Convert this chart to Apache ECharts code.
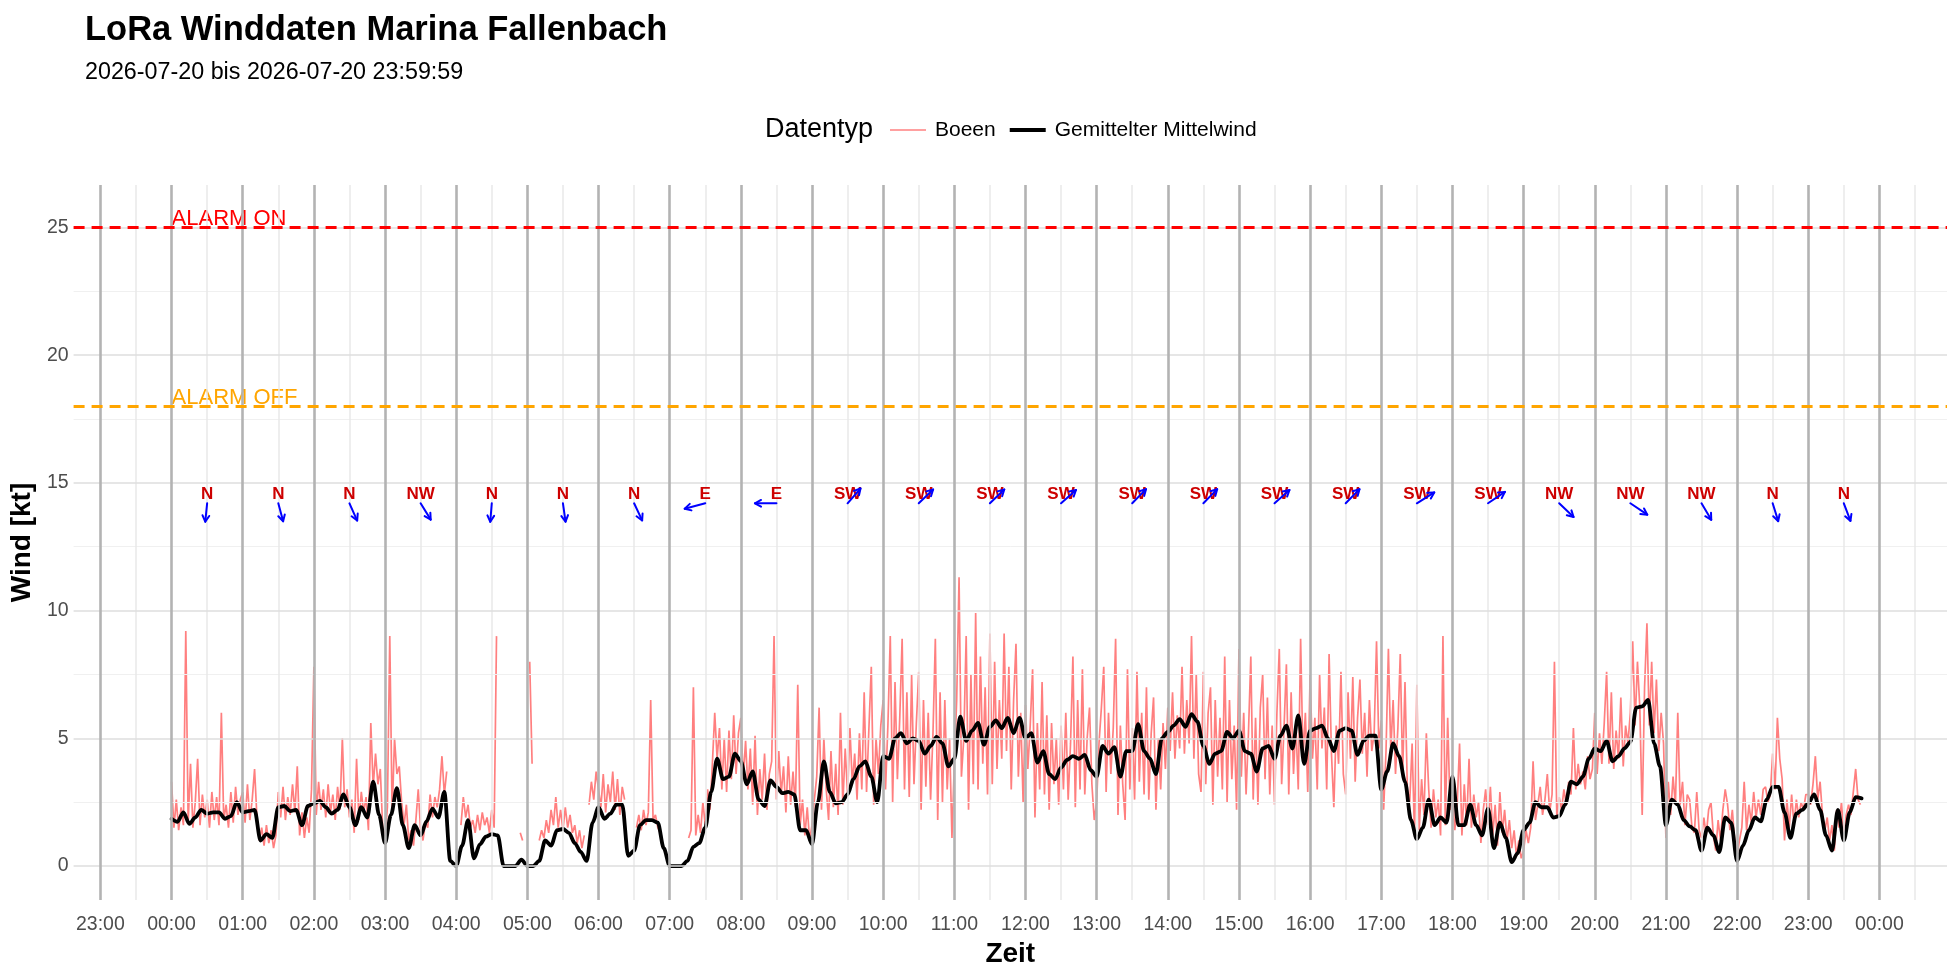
<!DOCTYPE html>
<html><head><meta charset="utf-8">
<script src="https://cdn.jsdelivr.net/npm/echarts@6/dist/echarts.min.js"></script>
<style>html,body{margin:0;padding:0;background:#fff}#c{width:1960px;height:980px}</style>
</head><body><div id="c"></div>
<script>
const FONT = '"Liberation Sans", Arial, Helvetica, sans-serif';

// ---- Gemittelter Mittelwind: 5-minute values, blocks of 4 hours starting 00:00 ----
const MEAN_STEP = 5;
const mean00_04 = [1.85,1.73,2.1,1.65,1.9,2.2,2.05,2.1,2.1,1.85,1.95,2.5,
  2.1,2.15,2.2,1.0,1.25,1.1,2.3,2.35,2.15,2.2,1.6,2.35,
  2.45,2.55,2.3,2.05,2.2,2.8,2.3,1.6,2.3,1.9,3.3,2.0,
  0.9,2.0,3.05,1.6,0.7,1.6,1.2,1.75,2.25,1.9,2.9,0.2];
const mean04_08 = [0,0.8,1.8,0.3,0.85,1.15,1.25,1.2,0,0,0,0.25,
  0,0,0.2,1.0,0.8,1.4,1.45,1.3,0.9,0.55,0.2,1.7,
  2.3,1.85,2.05,2.4,2.4,0.4,0.6,1.6,1.8,1.8,1.7,0.7,
  0,0,0,0.2,0.75,0.9,1.5,2.9,4.2,3.4,3.5,4.4];
const mean08_12 = [4.1,3.2,3.7,2.6,2.35,3.35,3.1,2.85,2.9,2.8,1.4,1.4,
  0.85,2.5,4.1,2.9,2.45,2.5,2.8,3.4,3.9,4.1,3.5,2.5,
  4.3,4.2,5.0,5.2,4.8,5.0,4.9,4.4,4.7,5.05,4.8,3.9,
  4.2,5.85,4.9,5.3,5.6,4.75,5.45,5.7,5.4,5.8,5.2,5.8];
const mean12_16 = [5.0,5.2,4.05,4.5,3.6,3.4,3.85,4.15,4.3,4.2,4.35,3.75,
  3.5,4.7,4.4,4.65,3.5,4.5,4.5,5.55,4.5,4.2,3.6,5.0,
  5.25,5.5,5.75,5.45,5.95,5.65,4.7,4.0,4.4,4.5,5.25,5.0,
  5.3,4.5,4.4,3.7,4.6,4.7,4.2,5.1,5.5,4.6,5.9,4.0];
const mean16_20 = [5.3,5.4,5.5,5.0,4.5,5.3,5.4,5.3,4.35,4.9,5.1,5.1,
  3.0,3.7,4.8,4.3,3.3,1.8,1.05,1.5,2.6,1.6,1.9,1.7,
  3.5,1.6,1.6,2.4,1.6,1.2,2.25,0.7,1.7,1.1,0.15,0.5,
  1.4,1.7,2.5,2.3,2.3,1.9,1.95,2.4,3.3,3.2,3.5,4.2];
const mean20_24 = [4.6,4.5,4.9,4.1,4.3,4.6,4.85,6.2,6.25,6.5,4.8,3.9,
  1.6,2.6,2.4,1.8,1.55,1.4,0.6,1.5,1.2,0.55,1.9,1.7,
  0.2,0.8,1.4,1.9,1.75,2.6,3.1,3.1,2.1,1.1,2.05,2.2,
  2.45,2.8,2.2,1.2,0.6,2.2,1.0,2.1,2.7,2.65];
const meanBlocks = [mean00_04, mean04_08, mean08_12, mean12_16, mean16_20, mean20_24];

// ---- Boeen: 2-minute values per hour (null = no data) ----
const GUST_STEP = 2;
const g00 = [3.3,1.5,2.6,1.4,2.3,1.6,9.2,1.7,4.0,1.5,2.5,4.2,1.6,2.8,1.9,2.6,1.5,2.9,1.8,2.7,1.6,6.0,1.8,2.4,1.5,2.9,1.7,3.1,2.0,2.6];
const g01 = [2.9,1.7,3.2,1.8,2.6,3.8,1.9,1.0,1.5,0.8,1.6,0.9,1.4,0.7,1.2,2.9,1.9,3.1,1.8,2.7,2.0,3.2,2.1,3.9,1.2,2.1,1.1,1.9,1.3,3.0];
const g02 = [7.8,2.0,3.3,2.2,3.0,1.9,3.2,2.1,2.8,1.8,3.1,2.2,5.0,2.3,3.0,1.9,2.6,1.3,4.2,1.8,2.9,2.1,2.7,1.4,5.6,3.1,4.4,3.2,3.8,1.5];
const g03 = [1.1,2.3,9.0,2.0,5.0,3.6,3.9,2.5,1.6,2.4,1.0,1.4,0.8,1.8,3.0,1.4,1.0,1.7,1.5,2.8,1.9,2.7,2.3,3.0,4.3,2.8,3.7,null,null,null];
const g04 = [null,null,1.6,2.7,1.9,2.4,1.5,1.8,1.3,2.0,1.4,2.1,1.6,1.9,1.3,2.2,1.5,9.0,null,null,null,null,null,null,null,null,null,1.3,1.0,null];
const g05 = [null,8.0,4.0,null,null,1.0,1.4,1.1,1.8,1.3,2.2,1.6,2.7,1.5,2.2,1.4,2.3,1.5,2.0,1.3,1.6,0.9,1.4,0.7,1.2,null,2.4,3.3,2.6,3.7];
const g06 = [3.0,2.3,3.6,2.1,3.2,2.5,3.7,2.2,3.4,2.0,3.1,2.6,null,null,null,null,1.5,2.0,1.4,2.2,1.6,2.1,6.5,1.8,2.0,1.5,1.3,null,null,null];
const g07 = [null,null,null,null,null,null,null,null,1.1,1.4,7.0,1.2,2.0,1.3,2.5,1.6,3.0,2.2,4.0,6.0,4.2,5.4,3.0,5.0,2.9,5.3,3.4,5.9,3.6,5.2];
const g08 = [5.8,3.4,4.9,3.0,4.6,2.4,5.1,2.0,3.8,2.6,4.4,2.2,3.6,4.1,9.0,2.6,4.5,2.8,3.9,2.1,4.3,2.4,3.7,2.3,7.1,1.6,2.6,1.2,2.3,1.0];
const g09 = [1.6,2.6,3.5,6.2,2.2,5.0,3.0,1.8,4.5,2.3,4.0,2.0,6.0,2.4,4.6,2.8,5.4,3.2,4.4,2.6,5.2,3.0,6.8,2.9,5.4,7.8,2.4,5.0,3.6,5.5];
const g10 = [6.5,3.0,5.5,9.0,2.5,7.2,3.4,5.8,8.9,3.0,6.8,2.7,7.5,3.2,5.6,7.6,2.2,6.5,3.1,6.0,2.6,5.2,8.9,1.8,6.8,2.5,6.5,3.0,5.0,1.1];
const g11 = [4.0,6.5,11.3,3.5,5.0,9.0,2.2,7.5,3.2,9.9,3.0,8.2,4.0,7.0,2.8,9.1,3.2,8.0,3.8,6.5,4.2,9.1,4.5,7.8,3.0,6.5,8.7,3.5,6.0,2.5];
const g12 = [6.3,3.8,5.5,7.7,1.9,5.6,3.0,7.2,2.8,5.9,2.2,5.6,3.2,5.0,2.4,5.5,3.0,6.0,2.6,4.8,8.2,2.3,6.5,3.0,7.7,2.8,5.0,6.2,3.2,1.8];
const g13 = [2.5,4.8,6.2,7.8,2.9,6.0,3.6,5.4,8.9,2.0,5.5,3.2,1.8,7.7,3.0,5.4,2.6,7.6,3.3,6.0,2.8,7.0,2.6,5.2,6.6,2.2,5.0,3.0,5.6,3.8];
const g14 = [6.2,4.5,6.8,4.2,5.9,4.6,7.8,4.4,6.5,4.8,9.0,4.2,7.5,3.6,2.9,7.6,3.2,6.0,7.0,2.4,6.5,3.5,5.8,3.0,8.2,2.5,6.5,3.4,5.5,2.2];
const g15 = [8.5,3.5,6.0,2.8,5.2,8.2,2.6,5.8,2.4,6.2,7.5,3.4,6.6,2.8,5.5,2.4,6.0,8.5,3.2,5.4,7.9,2.8,6.8,3.6,5.6,3.0,8.9,4.2,6.0,2.9];
const g16 = [7.5,4.2,5.8,3.0,7.5,4.6,6.2,3.0,8.3,4.4,2.3,5.5,4.0,7.6,3.6,2.8,6.8,4.2,7.4,3.3,5.8,7.3,4.4,6.0,3.5,6.5,4.5,5.2,8.8,4.6];
const g17 = [5.7,2.2,4.5,8.5,4.5,6.5,3.6,5.4,8.3,3.6,7.2,3.0,2.5,4.8,1.2,7.1,1.4,3.4,2.0,5.2,3.0,1.5,3.0,1.9,2.6,1.2,9.0,1.6,5.8,2.2];
const g18 = [2.8,1.4,2.4,4.8,1.2,3.2,1.6,4.2,1.5,2.8,1.9,2.5,0.9,2.2,3.0,1.6,3.1,1.2,2.4,0.8,2.9,1.3,2.2,1.0,1.8,0.7,1.4,0.4,1.0,0.3];
const g19 = [0.6,1.4,0.9,1.5,4.1,1.8,2.4,3.1,2.0,2.6,3.6,2.1,2.8,8.0,1.9,2.7,2.2,3.0,2.4,3.3,2.8,5.4,3.0,4.0,3.2,3.7,3.0,4.3,3.4,3.8];
const g20 = [6.0,3.6,5.2,4.0,5.6,7.6,4.0,6.8,3.8,5.3,4.2,6.6,3.9,5.5,4.8,6.0,8.8,5.5,8.0,6.2,2.0,7.0,9.5,5.5,8.0,5.2,7.3,4.5,6.0,4.8];
const g21 = [1.1,3.3,2.0,3.5,2.4,6.0,2.4,3.3,1.6,2.8,2.6,1.5,1.3,2.9,1.4,1.1,1.9,1.2,2.2,2.5,1.2,0.6,1.8,1.0,2.2,3.0,2.4,1.4,2.2,1.0];
const g22 = [0.4,1.0,1.5,3.3,1.4,2.4,1.7,2.9,1.9,2.6,2.0,3.0,3.1,2.5,2.8,4.4,3.0,5.8,4.2,3.4,1.0,2.6,1.5,2.8,1.6,2.6,1.9,2.5,2.2,2.8];
const g23 = [2.8,2.4,3.2,4.3,2.6,3.3,2.0,1.4,1.9,1.0,1.6,0.6,2.2,1.5,2.5,1.2,2.0,2.4,2.0,2.9,3.8,2.6,2.4,null,null,null,null,null,null,null];
const gustHours = [g00,g01,g02,g03,g04,g05,g06,g07,g08,g09,g10,g11,g12,g13,g14,g15,g16,g17,g18,g19,g20,g21,g22,g23];

// ---- Wind direction annotations (half hours) ----
const dirTimes = ['00:30','01:30','02:30','03:30','04:30','05:30','06:30','07:30','08:30','09:30','10:30','11:30',
  '12:30','13:30','14:30','15:30','16:30','17:30','18:30','19:30','20:30','21:30','22:30','23:30'];
const dirLabels = ['N','N','N','NW','N','N','N','E','E','SW','SW','SW','SW','SW','SW','SW','SW','SW','SW','NW','NW','NW','N','N'];
const dirDegrees = [5,347,339,332,4,353,338,73,90,217,222,222,224,220,220,224,220,234,232,318,308,333,345,342];
const DIR_LABEL_Y = 14.55;
const DIR_ARROW_Y = 14.2;

// ---- Alarm levels ----
const alarmNames = ['ALARM ON','ALARM OFF'];
const alarmLevels = [25, 18];
const alarmColors = ['#ff0000','#ffa500'];
const alarmLabelAt = '00:00';

// ---- Axis ticks (minutes relative to 2026-07-20 00:00) ----
const xTicks = [-60,0,60,120,180,240,300,360,420,480,540,600,660,720,780,840,900,960,1020,1080,1140,1200,1260,1320,1380,1440];
const xMinor = [-30,30,90,150,210,270,330,390,450,510,570,630,690,750,810,870,930,990,1050,1110,1170,1230,1290,1350,1410,1470];
const yTicks = [0,5,10,15,20,25];
const yMinor = [2.5,7.5,12.5,17.5,22.5];

const hm = s => { const p = s.split(':').map(Number); return p[0]*60 + p[1]; };
const pad = n => (n < 10 ? '0' : '') + n;
const fmtTime = v => { const m = ((Math.round(v) % 1440) + 1440) % 1440; return pad(Math.floor(m/60)) + ':' + pad(m % 60); };

const meanData = [];
meanBlocks.forEach((blk, b) => blk.forEach((v, j) => meanData.push([b*240 + j*MEAN_STEP, v])));
const gustData = [];
gustHours.forEach((arr, h) => arr.forEach((v, j) => gustData.push([h*60 + j*GUST_STEP, v])));
const dirData = dirTimes.map((t, i) => [hm(t), dirDegrees[i], i]);
const alarmData = alarmLevels.map((lv, i) => [hm(alarmLabelAt), lv, i]);

const chart = echarts.init(document.getElementById('c'), null, {renderer: 'canvas'});

const gridLineSeries = (name, vals, axisKey, color, width) => ({
  type: 'line', name, data: [], silent: true, z: 0,
  markLine: {
    silent: true, symbol: ['none','none'], animation: false,
    label: {show: false},
    lineStyle: {color, width, type: 'solid', opacity: 1},
    emphasis: {disabled: true},
    data: vals.map(v => ({[axisKey]: v}))
  }
});

const option = {
  animation: false,
  backgroundColor: '#ffffff',
  textStyle: {fontFamily: FONT},
  title: [
    {text: 'LoRa Winddaten Marina Fallenbach', left: 85, top: 13, padding: 0,
     textStyle: {fontFamily: FONT, fontSize: 34.5, fontWeight: 'bold', color: '#000'}},
    {text: '2026-07-20 bis 2026-07-20 23:59:59', left: 85, top: 61, padding: 0,
     textStyle: {fontFamily: FONT, fontSize: 23.3, fontWeight: 'normal', color: '#000'}},
    {text: 'Datentyp', left: 765, top: 116.5, padding: 0,
     textStyle: {fontFamily: FONT, fontSize: 27, fontWeight: 'normal', color: '#000'}}
  ],
  legend: {
    left: 890, top: 119.5, padding: 0,
    itemWidth: 36, itemHeight: 22, itemGap: 14,
    textStyle: {fontFamily: FONT, fontSize: 21, color: '#000', padding: [0,0,0,4]},
    data: [
      {name: 'Boeen', icon: 'path://M0,0 H36 V1.6 H0 Z', itemStyle: {color: '#ff8080'}},
      {name: 'Gemittelter Mittelwind', icon: 'path://M0,0 H36 V4 H0 Z', itemStyle: {color: '#000000'}}
    ]
  },
  grid: {left: 71, right: 13, top: 185, bottom: 80, containLabel: false},
  xAxis: {
    type: 'value', min: -82.6, max: 1497,
    name: 'Zeit', nameLocation: 'middle', nameGap: 37,
    nameTextStyle: {fontFamily: FONT, fontSize: 28, fontWeight: 'bold', color: '#000'},
    axisLine: {show: false}, axisTick: {show: false, customValues: xTicks}, splitLine: {show: false},
    axisLabel: {customValues: xTicks, formatter: fmtTime, margin: 15,
      fontFamily: FONT, fontSize: 19.5, color: '#4d4d4d'}
  },
  yAxis: {
    type: 'value', min: -1.33, max: 26.66,
    name: 'Wind [kt]', nameLocation: 'middle', nameGap: 31.5, nameRotate: 90,
    nameTextStyle: {fontFamily: FONT, fontSize: 28, fontWeight: 'bold', color: '#000'},
    axisLine: {show: false}, axisTick: {show: false, customValues: yTicks}, splitLine: {show: false},
    axisLabel: {customValues: yTicks, margin: 5, fontFamily: FONT, fontSize: 19.5, color: '#4d4d4d'}
  },
  series: [
    gridLineSeries('_yminor', yMinor, 'yAxis', '#f0f0f0', 1),
    gridLineSeries('_xminor', xMinor, 'xAxis', '#e8e8e8', 1.5),
    gridLineSeries('_ymajor', yTicks, 'yAxis', '#dedede', 1.5),
    gridLineSeries('_xmajor', xTicks, 'xAxis', '#b3b3b3', 2.6),
    {
      type: 'line', name: '_alarm', data: [], silent: true, z: 1,
      markLine: {
        silent: true, symbol: ['none','none'], animation: false, label: {show: false},
        data: alarmLevels.map((lv, i) => ({yAxis: lv, lineStyle: {color: alarmColors[i], width: 2.8, type: [11, 7]}}))
      }
    },
    {
      type: 'line', name: 'Boeen', data: gustData, showSymbol: false, symbol: 'none',
      connectNulls: false, z: 2,
      lineStyle: {color: 'rgba(255,0,0,0.5)', width: 1.7},
      itemStyle: {color: '#ff8080'}
    },
    {
      type: 'line', name: 'Gemittelter Mittelwind', data: meanData, showSymbol: false, symbol: 'none',
      smooth: 0.3, smoothMonotone: 'x', z: 3,
      lineStyle: {color: '#000000', width: 3.8, join: 'round', cap: 'round'},
      itemStyle: {color: '#000000'}
    },
    {
      type: 'custom', name: '_alarmLabels', data: alarmData, silent: true, z: 4,
      renderItem: (params, api) => {
        const i = api.value(2);
        const p = api.coord([api.value(0), api.value(1)]);
        return {type: 'text', x: p[0], y: p[1] - 8,
          style: {text: alarmNames[i], fill: alarmColors[i], font: '22px ' + FONT,
                  align: 'left', textAlign: 'left', verticalAlign: 'middle', textVerticalAlign: 'middle'}};
      }
    },
    {
      type: 'custom', name: '_dirs', data: dirData, silent: true, z: 5,
      renderItem: (params, api) => {
        const t = api.value(0), deg = api.value(1), i = api.value(2);
        const lp = api.coord([t, DIR_LABEL_Y]);
        const p = api.coord([t, DIR_ARROW_Y]);
        const b = (deg + 180) * Math.PI / 180;
        const ex = p[0] + 21.5 * Math.sin(b), ey = p[1] - 18.5 * Math.cos(b);
        const ang = Math.atan2(ey - p[1], ex - p[0]);
        const h = 7, a = 0.5;
        const w1 = [ex - h*Math.cos(ang - a), ey - h*Math.sin(ang - a)];
        const w2 = [ex - h*Math.cos(ang + a), ey - h*Math.sin(ang + a)];
        return {type: 'group', children: [
          {type: 'text', x: lp[0], y: lp[1],
           style: {text: dirLabels[i], fill: '#cd0000', font: 'bold 17px ' + FONT,
                   align: 'center', textAlign: 'center', verticalAlign: 'middle', textVerticalAlign: 'middle'}},
          {type: 'line', shape: {x1: p[0], y1: p[1], x2: ex, y2: ey},
           style: {stroke: '#0000ff', lineWidth: 2, lineCap: 'round'}},
          {type: 'polyline', shape: {points: [w1, [ex, ey], w2]},
           style: {stroke: '#0000ff', lineWidth: 2, fill: null, lineCap: 'round', lineJoin: 'round'}}
        ]};
      }
    }
  ]
};
chart.setOption(option);
</script>
</body></html>
